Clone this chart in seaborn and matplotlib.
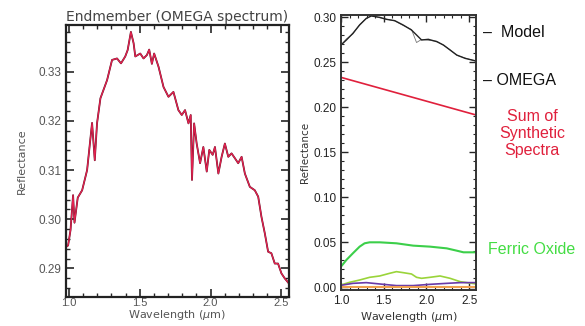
import numpy as np
import pandas as pd
import matplotlib
matplotlib.use("Agg")
import matplotlib.pyplot as plt
from matplotlib.ticker import MultipleLocator
import seaborn as sns

# left panel: OMEGA endmember spectrum
endm_wl = [0.988, 0.995, 1.012, 1.030, 1.040, 1.063, 1.094, 1.129, 1.164, 1.183,
           1.199, 1.223, 1.270, 1.305, 1.340, 1.368, 1.398, 1.415, 1.438, 1.457,
           1.469, 1.504, 1.527, 1.551, 1.567, 1.586, 1.602, 1.633, 1.668, 1.703,
           1.738, 1.773, 1.797, 1.820, 1.844, 1.860, 1.869, 1.884, 1.902, 1.926,
           1.949, 1.973, 1.991, 2.015, 2.031, 2.055, 2.078, 2.101, 2.125, 2.148,
           2.172, 2.195, 2.219, 2.242, 2.277, 2.312, 2.336, 2.359, 2.383, 2.406,
           2.429, 2.453, 2.476, 2.500, 2.523, 2.554]
endm_refl = [0.2945, 0.2947, 0.2978, 0.3049, 0.2993, 0.3044, 0.3059, 0.3100, 0.3196, 0.3120,
             0.3195, 0.3246, 0.3283, 0.3324, 0.3327, 0.3317, 0.3331, 0.3344, 0.3381, 0.3358,
             0.3331, 0.3337, 0.3327, 0.3334, 0.3345, 0.3316, 0.3337, 0.3310, 0.3269, 0.3249,
             0.3259, 0.3222, 0.3212, 0.3222, 0.3195, 0.3212, 0.3080, 0.3195, 0.3154, 0.3114,
             0.3147, 0.3097, 0.3141, 0.3131, 0.3147, 0.3093, 0.3127, 0.3154, 0.3127, 0.3134,
             0.3124, 0.3114, 0.3127, 0.3093, 0.3066, 0.3059, 0.3046, 0.3005, 0.2971, 0.2934,
             0.2931, 0.2910, 0.2910, 0.2890, 0.2880, 0.2869]

# right panel: model fit components
model_wl = [1.0, 1.063, 1.139, 1.218, 1.296, 1.355, 1.453, 1.531, 1.629, 1.727,
            1.825, 1.884, 1.943, 2.022, 2.120, 2.198, 2.276, 2.355, 2.453, 2.58]
model_refl = [0.2693, 0.2748, 0.2822, 0.2915, 0.2989, 0.3015, 0.3000, 0.2978, 0.2963, 0.2915,
              0.2859, 0.2804, 0.2748, 0.2756, 0.2730, 0.2693, 0.2637, 0.2581, 0.2544, 0.2515]
omega_refl = [0.2690, 0.2760, 0.2815, 0.2920, 0.2985, 0.3020, 0.2995, 0.2980, 0.2960, 0.2910,
              0.2865, 0.2720, 0.2755, 0.2745, 0.2735, 0.2690, 0.2640, 0.2578, 0.2548, 0.2512]

sum_wl = [1.0, 2.58]
sum_refl = [0.2333, 0.1915]

ferric_wl = [1.0, 1.063, 1.139, 1.218, 1.276, 1.335, 1.453, 1.649, 1.845, 2.041,
             2.237, 2.355, 2.433, 2.58]
ferric_refl = [0.0230, 0.0304, 0.0378, 0.0452, 0.0489, 0.0500, 0.0500, 0.0489, 0.0463, 0.0452,
               0.0433, 0.0407, 0.0389, 0.0389]

yg_wl = [1.0, 1.102, 1.218, 1.335, 1.453, 1.571, 1.649, 1.727, 1.825, 1.884,
         1.943, 2.041, 2.159, 2.276, 2.394, 2.58]
yg_refl = [0.0026, 0.0056, 0.0081, 0.0111, 0.0126, 0.0156, 0.0174, 0.0163, 0.0148, 0.0111,
           0.0100, 0.0111, 0.0126, 0.0100, 0.0063, 0.0037]

purple_wl = [1.0, 1.139, 1.296, 1.453, 1.649, 1.845, 2.041, 2.237, 2.394, 2.58]
purple_refl = [0.0022, 0.0044, 0.0052, 0.0037, 0.0019, 0.0019, 0.0033, 0.0044, 0.0052, 0.0052]

orange_wl = [1.0, 2.58]
orange_refl = [0.0, 0.0]

sns.set_style("ticks")
plt.rcParams["font.family"] = ["Liberation Sans", "DejaVu Sans"]

fig = plt.figure(figsize=(5.85, 3.26), dpi=100)
ax1 = fig.add_axes([0.1128, 0.089, 0.3804, 0.8343])
ax2 = fig.add_axes([0.5829, 0.1104, 0.2308, 0.8436])

# left panel
sns.lineplot(x=endm_wl, y=endm_refl, ax=ax1, color="#5a1226", lw=1.3)
sns.lineplot(x=endm_wl, y=endm_refl, ax=ax1, color="#e3224f", lw=0.9)
ax1.set_xlim(0.98, 2.55)
ax1.set_ylim(0.2842, 0.3395)
ax1.xaxis.set_major_locator(MultipleLocator(0.5))
ax1.xaxis.set_minor_locator(MultipleLocator(0.1))
ax1.yaxis.set_major_locator(MultipleLocator(0.01))
ax1.yaxis.set_minor_locator(MultipleLocator(0.002))
ax1.set_yticks(ax1.get_yticks())
ax1.set_yticklabels([f"{v:.2f}" for v in ax1.get_yticks()])
ax1.set_xticks(ax1.get_xticks())
ax1.set_xticklabels([f"{v:.1f}" for v in ax1.get_xticks()])
ax1.set_xlim(0.98, 2.55)
ax1.set_ylim(0.2842, 0.3395)
ax1.set_title("Endmember (OMEGA spectrum)", fontsize=10, color="#444444", pad=3,
              family=["DejaVu Sans"])
ax1.set_xlabel("Wavelength ($\\mu$m)", fontsize=8, color="#555555", labelpad=0,
               family=["DejaVu Sans"])
ax1.set_ylabel("Reflectance", fontsize=8, color="#555555", labelpad=8,
               family=["DejaVu Sans"])
ax1.tick_params(axis="both", which="major", direction="in", length=6, width=1.2,
                labelsize=8.5, labelcolor="#555555", top=True, right=True)
ax1.tick_params(axis="x", which="major", pad=1, labelsize=8)
ax1.tick_params(axis="both", which="minor", direction="in", length=3, width=1.0,
                top=True, right=True)
for sp in ax1.spines.values():
    sp.set_linewidth(1.6)
    sp.set_color("#222222")

# right panel
sns.lineplot(x=model_wl, y=omega_refl, ax=ax2, color="#777777", lw=0.6)
sns.lineplot(x=model_wl, y=model_refl, ax=ax2, color="#222222", lw=1.0)
sns.lineplot(x=sum_wl, y=sum_refl, ax=ax2, color="#e0203c", lw=1.2)
sns.lineplot(x=ferric_wl, y=ferric_refl, ax=ax2, color="#3ccf4a", lw=1.5)
sns.lineplot(x=yg_wl, y=yg_refl, ax=ax2, color="#9ad43a", lw=1.2)
sns.lineplot(x=purple_wl, y=purple_refl, ax=ax2, color="#6a3aa8", lw=1.2)
sns.lineplot(x=orange_wl, y=orange_refl, ax=ax2, color="#f0a050", lw=1.5)
ax2.xaxis.set_major_locator(MultipleLocator(0.5))
ax2.xaxis.set_minor_locator(MultipleLocator(0.1))
ax2.yaxis.set_major_locator(MultipleLocator(0.05))
ax2.yaxis.set_minor_locator(MultipleLocator(0.01))
ax2.set_yticks(ax2.get_yticks())
ax2.set_yticklabels([f"{v:.2f}" for v in ax2.get_yticks()])
ax2.set_xticks(ax2.get_xticks())
ax2.set_xticklabels([f"{v:.1f}" for v in ax2.get_xticks()])
ax2.set_xlim(1.0, 2.58)
ax2.set_ylim(-0.003, 0.3026)
ax2.set_xlabel("Wavelength ($\\mu$m)", fontsize=8, color="#333333", labelpad=2,
               family=["DejaVu Sans"])
ax2.set_ylabel("Reflectance", fontsize=7.5, color="#333333", labelpad=2,
               family=["DejaVu Sans"])
ax2.tick_params(axis="both", which="major", direction="in", length=5, width=1.0,
                labelsize=8.5, labelcolor="#222222", top=True, right=True)
ax2.tick_params(axis="both", which="minor", direction="in", length=2.5, width=0.8,
                top=True, right=True)
for sp in ax2.spines.values():
    sp.set_linewidth(1.4)
    sp.set_color("#333333")

# side labels
fig.text(0.826, 0.90, "–  Model", fontsize=11.5, color="#111111", va="center")
fig.text(0.826, 0.752, "– OMEGA", fontsize=11.5, color="#111111", va="center")
fig.text(0.91, 0.59, "Sum of\nSynthetic\nSpectra", fontsize=11.5, color="#e0203c",
         ha="center", va="center", linespacing=1.15)
fig.text(0.834, 0.236, "Ferric Oxide", fontsize=11.5, color="#44dd44", va="center")

fig.savefig("out.png", dpi=100)
